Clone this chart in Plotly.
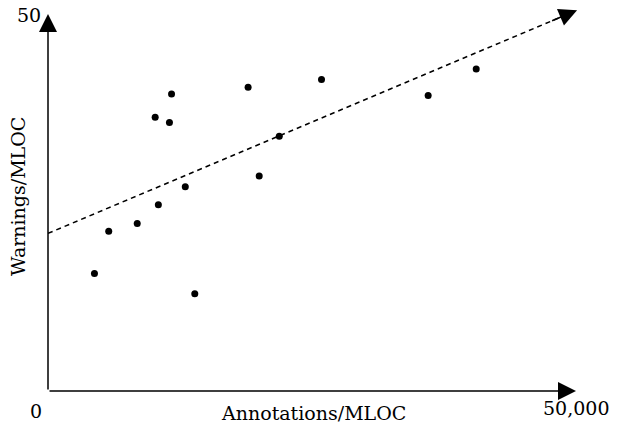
import plotly.graph_objects as go

annotations_per_mloc = [4400, 5750, 8450, 10150, 10450, 11500, 11700, 13000, 13900,
                        18950, 20000, 21900, 25900, 36000, 40550]
warnings_per_mloc = [15.6, 21.2, 22.2, 36.3, 24.7, 35.6, 39.4, 27.1, 12.9,
                     40.3, 28.5, 33.8, 41.3, 39.2, 42.7]
trend_x = [0, 50100]
trend_y = [20.9, 50.5]

W, H = 629, 435
L, R, T, B = 48, 53, 14, 44
pw, ph = W - L - R, H - T - B

def px(x):
    return (x - L) / pw

def py(y):
    return (H - B - y) / ph

FONT = "DejaVu Serif"

fig = go.Figure()
fig.add_trace(go.Scatter(
    x=[trend_x[0], trend_x[0] + (trend_x[1] - trend_x[0]) * 0.965],
    y=[trend_y[0], trend_y[0] + (trend_y[1] - trend_y[0]) * 0.965],
    mode="lines", line=dict(color="black", width=1.5, dash="5px,4px"),
    hoverinfo="skip", cliponaxis=False))
fig.add_trace(go.Scatter(
    x=annotations_per_mloc, y=warnings_per_mloc, mode="markers",
    marker=dict(color="black", size=7), cliponaxis=False))

ann = []
arrow = dict(xref="x", yref="y", axref="x", ayref="y", showarrow=True, arrowhead=2,
             arrowsize=2.4, arrowwidth=1.5, arrowcolor="black", standoff=0, text="")
ann.append(dict(x=50000, y=0, ax=0, ay=0, **arrow))
ann.append(dict(x=0, y=50, ax=0, ay=0, **arrow))
ann.append(dict(x=trend_x[1], y=trend_y[1],
                ax=trend_x[0] + (trend_x[1] - trend_x[0]) * 0.95,
                ay=trend_y[0] + (trend_y[1] - trend_y[0]) * 0.95, **arrow))

txt = dict(showarrow=False, xref="paper", yref="paper", xanchor="center", yanchor="middle",
           font=dict(family=FONT, size=19, color="black"))
ann.append(dict(text="Annotations/MLOC", x=px(313), y=py(413), **txt))
ann.append(dict(text="Warnings/MLOC", x=px(18), y=py(197), textangle=-90, **txt))
ann.append(dict(text="0", x=px(36), y=py(411), **txt))
ann.append(dict(text="50", x=px(29), y=py(15), **txt))
ann.append(dict(text="50,000", x=px(576), y=py(408), **txt))

fig.update_layout(
    width=W, height=H, margin=dict(l=L, r=R, t=T, b=B),
    paper_bgcolor="white", plot_bgcolor="white", showlegend=False,
    hovermode=False,
    xaxis=dict(range=[0, 50000], visible=False, fixedrange=True),
    yaxis=dict(range=[0, 50], visible=False, fixedrange=True),
    annotations=ann)

fig.write_html("out.html", config={"displayModeBar": False, "staticPlot": True},
               post_script="document.body.style.margin='0';document.body.style.overflow='hidden';")
